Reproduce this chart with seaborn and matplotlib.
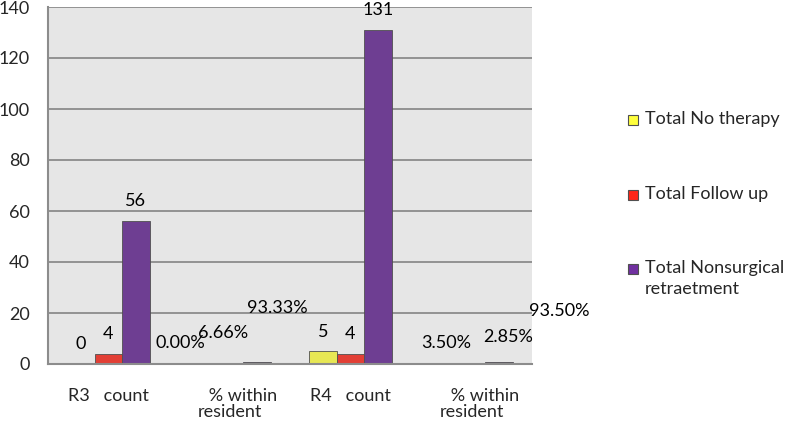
import matplotlib
matplotlib.use("Agg")
import matplotlib.pyplot as plt
from matplotlib.patches import Rectangle
import seaborn as sns
import pandas as pd

categories = ["R3 count", "R3 %", "R4 count", "R4 %"]
tick_labels = ["R3   count", "      % within\nresident", "R4   count", "      % within\nresident"]
series = ["Total No therapy", "Total Follow up", "Total Nonsurgical\nretraetment"]
no_therapy = [0, 0.0, 5, 0.0350]
follow_up = [4, 0.0666, 4, 0.0285]
nonsurgical = [56, 0.9333, 131, 0.9350]
is_percent = [False, True, False, True]

colors = ["#ffff3c", "#ff2618", "#7030a0"]
# label offsets in pixels (dx, dy) from bar top centre, per series per category
label_offsets = [
    [(0, -20), (-22, -21), (0, -19), (2, -21)],
    [(0, -20), (-6, -31), (0, -20), (37, -27)],
    [(0, -20), (20, -54), (0, -20), (60, -51)],
]

df = pd.DataFrame({
    "category": categories * 3,
    "series": [s for s in series for _ in categories],
    "value": no_therapy + follow_up + nonsurgical,
})

sns.set_style("white")
plt.rcParams["font.family"] = ["Lato", "DejaVu Sans"]
fs = 13

fig = plt.figure(figsize=(7.87, 4.22), dpi=100)
ax = fig.add_axes([48 / 787, 58 / 422, 484 / 787, 357 / 422])
ax.set_facecolor("#e6e6e6")

sns.barplot(data=df, x="category", y="value", hue="series", order=categories,
            hue_order=series, palette=colors, width=0.68, gap=0,
            edgecolor="#505050", linewidth=0.6, legend=False, ax=ax)

for i, cont in enumerate(ax.containers):
    for j, bar in enumerate(cont):
        v = bar.get_height()
        txt = f"{v * 100:.2f}%" if is_percent[j] else f"{int(v)}"
        dx, dy = label_offsets[i][j]
        ax.annotate(txt, (bar.get_x() + bar.get_width() / 2, v),
                    xytext=(dx, -dy), textcoords="offset pixels",
                    ha="center", va="center", fontsize=fs, color="black",
                    annotation_clip=False)

ax.set_ylim(0, 140)
ax.set_xlim(-0.5, 3.5)
ax.set_yticks(range(0, 141, 20))
ax.yaxis.grid(True, color="#8c8c8c", linewidth=1.3)
ax.set_axisbelow(True)
ax.tick_params(axis="y", labelsize=fs, length=6, color="#8c8c8c", width=1.3, pad=7)

ax.set_xticks([-0.5, 0.5, 1.5, 2.5, 3.5])
ax.set_xticklabels([])
ax.set_xticks(range(4), minor=True)
ax.set_xticklabels(tick_labels, minor=True, fontsize=fs, va="top", linespacing=1.05)
ax.tick_params(axis="x", which="major", length=7, color="#8c8c8c", width=1.3)
ax.tick_params(axis="x", which="minor", length=0, pad=17)
ax.set_xlabel("")
ax.set_ylabel("")

for s in ["top", "right"]:
    ax.spines[s].set_visible(False)
for s in ["left", "bottom"]:
    ax.spines[s].set_color("#8c8c8c")
    ax.spines[s].set_linewidth(1.5)

# legend drawn by hand so the marker sits on the first text line
W, H = 787, 422
leg_y = [120, 195, 269]
for c, name, y in zip(colors, series, leg_y):
    fig.patches.append(Rectangle((628 / W, 1 - (y + 5) / H), 10 / W, 10 / H,
                                 transform=fig.transFigure, facecolor=c,
                                 edgecolor="#505050", linewidth=0.8))
    fig.text(645 / W, 1 - (y - 9) / H, name, fontsize=fs, va="top", ha="left",
             linespacing=1.35)

fig.savefig("out.png", dpi=100)
